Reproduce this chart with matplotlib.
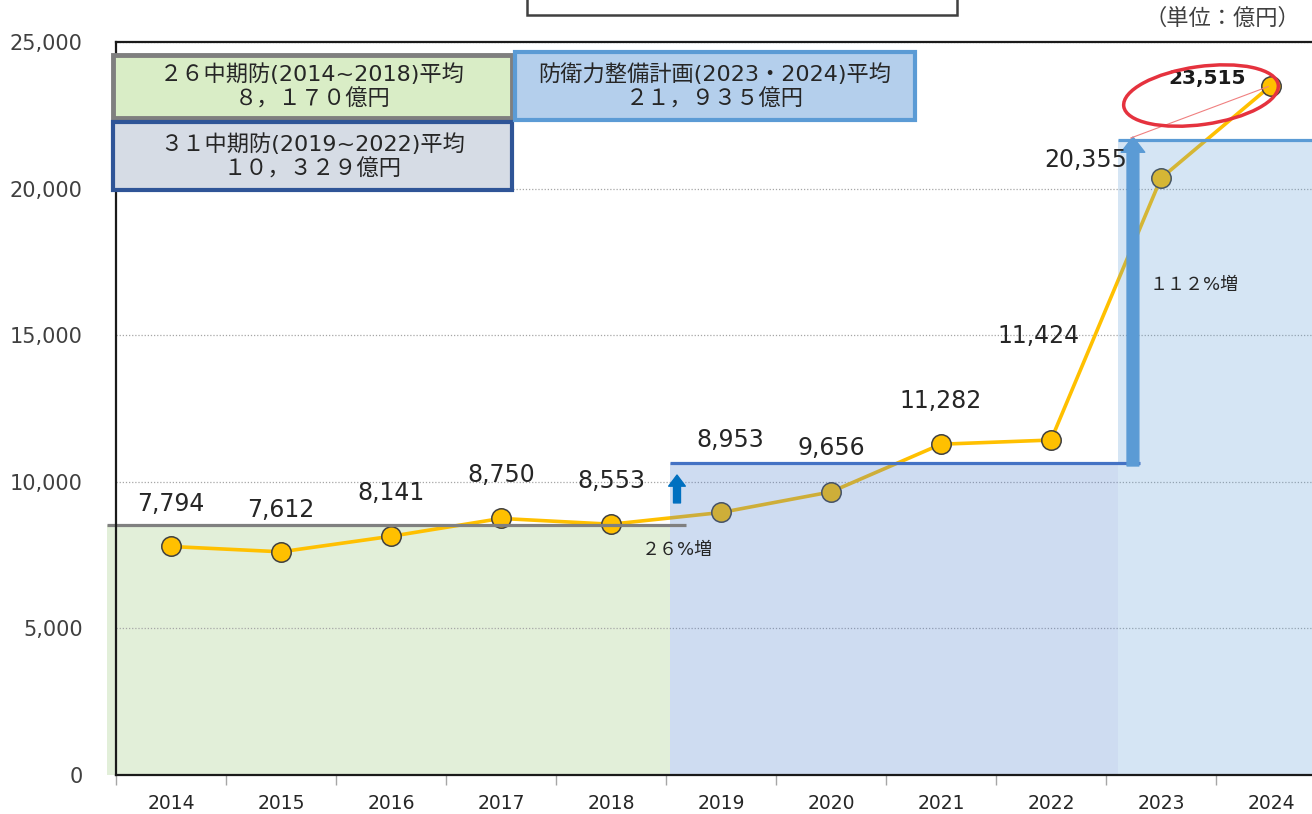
import matplotlib
matplotlib.use('Agg')
import matplotlib.pyplot as plt
from matplotlib.patches import Rectangle, Ellipse
from matplotlib.transforms import IdentityTransform
from matplotlib.ticker import FuncFormatter, FixedLocator

plt.rcParams['font.family'] = ['DejaVu Sans', 'Noto Sans CJK JP']

years = ['2014', '2015', '2016', '2017', '2018', '2019', '2020',
         '2021', '2022', '2023', '2024']
budget = [7794, 7612, 8141, 8750, 8553, 8953, 9656, 11282, 11424, 20355, 23515]
labels = ['7,794', '7,612', '8,141', '8,750', '8,553', '8,953', '9,656',
          '11,282', '11,424', '20,355', '23,515']
# label offsets (pixels) from each point
label_off = [(0, 42), (0, 42), (0, 43), (0, 43), (0, 43), (9, 72), (0, 44),
             (0, 43), (-13, 104), (-75, 18), (-64, 7)]

box_texts = ['２６中期防(2014~2018)平均\n８，１７０億円',
             '３１中期防(2019~2022)平均\n１０，３２９億円',
             '防衛力整備計画(2023・2024)平均\n２１，９３５億円']

# heights at which the period average lines are drawn
avg1_y = 8530
avg2_y = 10640
avg3_y = 21660

W, H = 1312, 814
fig = plt.figure(figsize=(W / 100, H / 100), dpi=100)
ax = fig.add_axes([116 / W, 39 / H, (W - 116) / W, 733 / H])
xmax = -0.5 + (W - 116) / 110
ax.set_xlim(-0.5, xmax)
ax.set_ylim(0, 25000)

# shaded periods
ax.add_patch(Rectangle((-0.58, 0), 4.536 + 0.58, avg1_y, facecolor='#E2EFD9',
                       edgecolor='none', zorder=1, clip_on=False))
ax.plot([-0.58, 4.68], [avg1_y, avg1_y], color='#808080', lw=2.3, zorder=6,
        clip_on=False, solid_capstyle='butt')

# line
ax.plot(range(len(years)), budget, color='#FFC000', lw=2.6, marker='o',
        markersize=14, markerfacecolor='#FFC000', markeredgecolor='#404040',
        markeredgewidth=1.1, zorder=3)

ax.add_patch(Rectangle((4.536, 0), 8.61 - 4.536, avg2_y, facecolor='#5282CF',
                       alpha=0.28, edgecolor='none', zorder=4))
ax.add_patch(Rectangle((8.61, 0), xmax - 8.61, avg3_y, facecolor='#5B9BD5',
                       alpha=0.25, edgecolor='none', zorder=4))
ax.plot([4.536, 8.81], [avg2_y, avg2_y], color='#4472C4', lw=2.3, zorder=6,
        solid_capstyle='butt')
ax.plot([8.61, xmax], [avg3_y, avg3_y], color='#5B9BD5', lw=2.3, zorder=6,
        solid_capstyle='butt')

# arrows
ax.annotate('', xy=(8.745, avg3_y + 100), xytext=(8.745, avg2_y - 100),
            arrowprops=dict(width=8.5, headwidth=17, headlength=11,
                            color='#5B9BD5', shrink=0), zorder=7)
ax.annotate('', xy=(4.6, 10230), xytext=(4.6, 9280),
            arrowprops=dict(width=5, headwidth=12, headlength=8,
                            color='#0070C0', shrink=0), zorder=7)

ax.text(4.6, 7670, '２６%増', fontsize=13, ha='center', va='center',
        color='#262626', zorder=8)
ax.text(9.3, 16700, '１１２%増', fontsize=13, ha='center', va='center',
        color='#262626', zorder=8)

# data labels
for i, (v, t, off) in enumerate(zip(budget, labels, label_off)):
    if i == len(years) - 1:
        ax.annotate(t, (i, v), xytext=off, textcoords='offset pixels',
                    ha='center', va='center', fontsize=14.5, fontweight='bold',
                    color='#1a1a1a', zorder=9)
    else:
        ax.annotate(t, (i, v), xytext=off, textcoords='offset pixels',
                    ha='center', va='center', fontsize=17, color='#262626',
                    zorder=9)

# red circle around the latest value
cx, cy = ax.transData.transform((len(years) - 1, budget[-1]))
ell = Ellipse((cx - 70, cy - 10), 156, 58, angle=8, fill=False,
              edgecolor='#E5323E', lw=2.5, transform=IdentityTransform(),
              zorder=10)
fig.patches.append(ell)
ax.annotate('', xy=(len(years) - 1, budget[-1]), xytext=(8.7, avg3_y + 30),
            arrowprops=dict(arrowstyle='-', color='#F08080', lw=0.8), zorder=10)

# axes styling
ax.grid(axis='y', color='#A6A6A6', linestyle=(0, (1, 1.5)), lw=0.9, zorder=5)
ax.set_axisbelow(False)
ax.set_yticks([0, 5000, 10000, 15000, 20000, 25000])
ax.yaxis.set_major_formatter(FuncFormatter(lambda v, p: f'{int(v):,}'))
ax.tick_params(axis='y', length=0, pad=24, labelsize=15, labelcolor='#404040')
ax.xaxis.set_major_locator(FixedLocator([i - 0.5 for i in range(12)]))
ax.xaxis.set_minor_locator(FixedLocator(range(len(years))))
ax.set_xticklabels([], minor=False)
ax.set_xticklabels(years, minor=True)
ax.tick_params(axis='x', which='major', length=7, color='#A6A6A6', width=1)
ax.tick_params(axis='x', which='minor', length=0, pad=14, labelsize=13.5,
               labelcolor='#262626')
for s in ['left', 'bottom', 'top']:
    ax.spines[s].set_color('#1a1a1a')
    ax.spines[s].set_linewidth(1.6)
    ax.spines[s].set_zorder(8)
ax.spines['right'].set_visible(False)


# text boxes (figure pixel coordinates, top-left origin)
def box(x0, y0, x1, y1, fc, ec, lw, text, fs=16):
    fig.patches.append(Rectangle((x0 / W, 1 - y1 / H), (x1 - x0) / W,
                                 (y1 - y0) / H, transform=fig.transFigure,
                                 facecolor=fc, edgecolor=ec, lw=lw, zorder=11))
    if text:
        fig.text((x0 + x1) / 2 / W, 1 - (y0 + y1) / 2 / H, text, ha='center',
                 va='center', fontsize=fs, color='#262626', linespacing=1.2,
                 zorder=12)


box(113, 55, 512, 118, '#D9EDC6', '#7F7F7F', 3.5, box_texts[0])
box(113, 122, 512, 190, '#D6DCE5', '#2F5597', 3, box_texts[1])
box(515, 52, 915, 120, '#B4CFEC', '#5B9BD5', 3, box_texts[2])
box(527, -10, 957, 15, 'white', '#404040', 1.8, '')

fig.text(1300 / W, 1 - 18 / H, '（単位：億円）', ha='right', va='center',
         fontsize=16, color='#404040')

fig.savefig('out.png', dpi=100)
